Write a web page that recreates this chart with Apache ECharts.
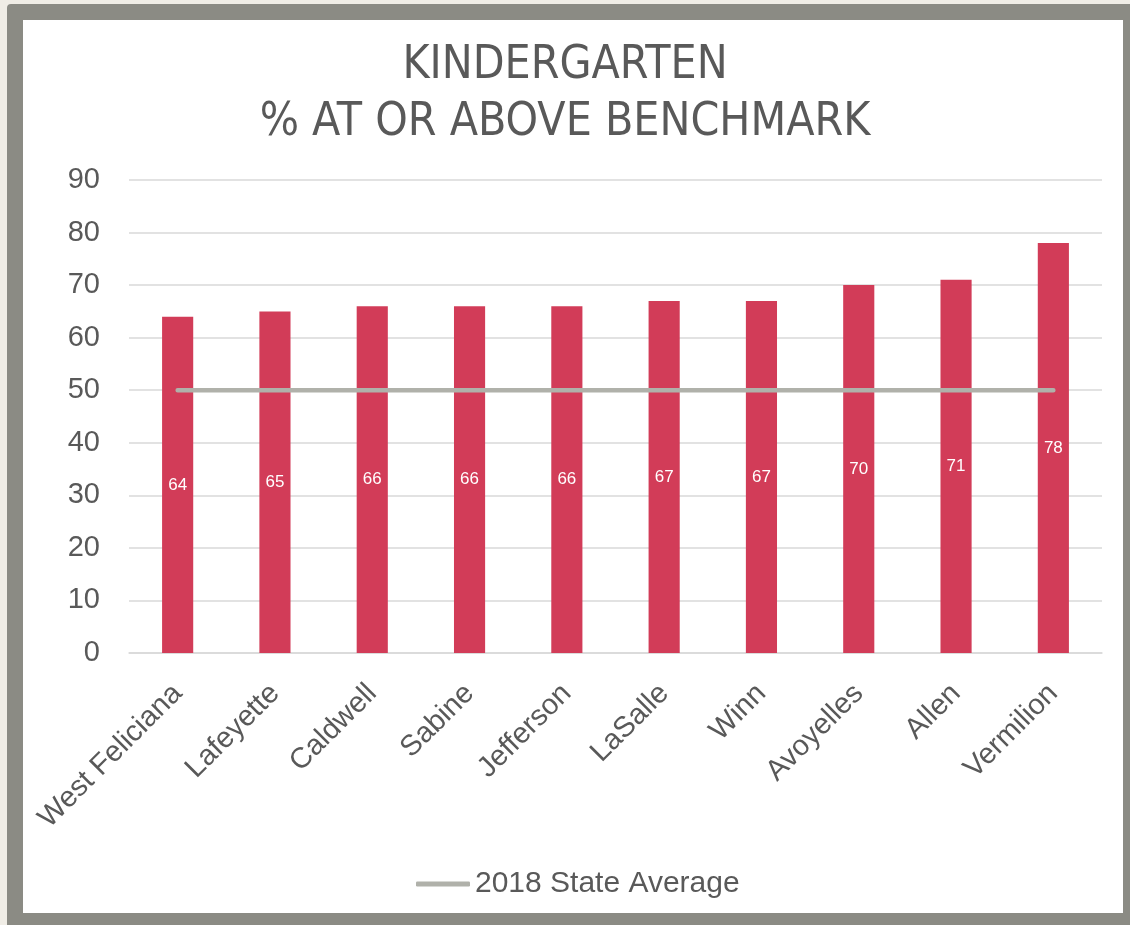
<!DOCTYPE html>
<html>
<head>
<meta charset="utf-8">
<script src="https://cdn.jsdelivr.net/npm/echarts@6/dist/echarts.min.js"></script>
<style>
    html, body { margin: 0; padding: 0; width: 1130px; height: 925px; overflow: hidden; background: #f0ede6; }
    .frame {
        position: absolute; left: 7px; top: 4px;
        width: 1100px; height: 893px;
        border: 16px solid #8b8b84; border-radius: 4px;
        background: #ffffff;
    }
    #chart { position: absolute; left: 0; top: 0; width: 1130px; height: 925px; }
</style>
</head>
<body>
<div class="frame"></div>
<div id="chart"></div>
<script>
var parishes = ['West Feliciana', 'Lafeyette', 'Caldwell', 'Sabine', 'Jefferson', 'LaSalle', 'Winn', 'Avoyelles', 'Allen', 'Vermilion'];
var benchmarkPct = [64, 65, 66, 66, 66, 67, 67, 70, 71, 78];
var stateAverage = [50, 50, 50, 50, 50, 50, 50, 50, 50, 50];

var textColor = '#595959';
var gridColor = '#d9d9d9';
var labelFont = '"Liberation Sans", sans-serif';

var myChart = echarts.init(document.getElementById('chart'));
var option = {
    backgroundColor: 'transparent',
    animation: false,
    title: {
        text: 'KINDERGARTEN\n% AT OR ABOVE BENCHMARK',
        left: 'center',
        top: 33,
        textStyle: {
            fontFamily: '"Liberation Sans Narrow", "DejaVu Sans Condensed", "Roboto Condensed", sans-serif',
            fontSize: 46,
            lineHeight: 57,
            fontWeight: 'normal',
            color: textColor,
            align: 'center'
        }
    },
    legend: {
        data: [{ name: '2018 State Average', icon: 'roundRect' }],
        left: 411,
        top: 864,
        itemWidth: 54,
        itemHeight: 5,
        itemGap: 6,
        textStyle: {
            fontFamily: labelFont,
            fontSize: 30,
            color: textColor
        }
    },
    grid: {
        left: 129,
        right: 28,
        top: 180,
        bottom: 272
    },
    xAxis: [{
        type: 'category',
        data: parishes,
        axisTick: { show: false },
        axisLine: { lineStyle: { color: gridColor, width: 1.5 } },
        axisLabel: {
            interval: 0,
            rotate: 45,
            margin: 36,
            fontFamily: labelFont,
            fontSize: 29,
            color: textColor
        }
    }],
    yAxis: [{
        type: 'value',
        min: 0,
        max: 90,
        interval: 10,
        axisLine: { show: false },
        axisTick: { show: false },
        splitLine: { lineStyle: { color: gridColor, width: 1.5 } },
        axisLabel: {
            margin: 29,
            fontFamily: labelFont,
            fontSize: 29,
            color: textColor
        }
    }],
    series: [{
        name: 'Kindergarten',
        type: 'bar',
        barWidth: '32%',
        data: benchmarkPct,
        itemStyle: { color: '#d23c58' },
        label: {
            show: true,
            position: 'inside',
            color: '#ffffff',
            fontFamily: labelFont,
            fontSize: 17
        }
    }, {
        name: '2018 State Average',
        type: 'line',
        data: stateAverage,
        symbol: 'none',
        lineStyle: { color: '#b0b1aa', width: 4.5, cap: 'round' },
        itemStyle: { color: '#b0b1aa' }
    }]
};

// 使用刚指定的配置项和数据显示图表。
myChart.setOption(option);
</script>
</body>
</html>
